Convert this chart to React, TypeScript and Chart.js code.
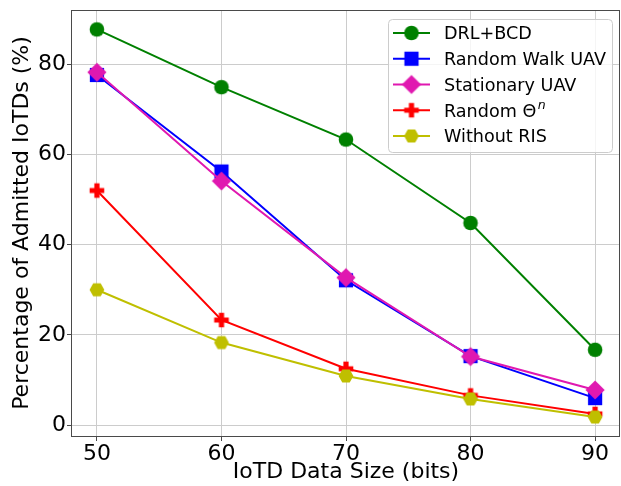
import React, { useEffect, useRef } from 'react';
import { Chart, registerables } from 'chart.js';

Chart.register(...registerables);

const dataSizes = [50, 60, 70, 80, 90];
const drlBcd = [87.7, 74.9, 63.3, 44.8, 16.7];
const randomWalkUav = [77.6, 56.2, 32.1, 15.3, 6.0];
const stationaryUav = [78.2, 54.1, 32.7, 15.2, 7.8];
const randomTheta = [52.0, 23.3, 12.5, 6.6, 2.5];
const withoutRis = [30.0, 18.3, 10.9, 5.8, 1.8];

const seriesLabels = ['DRL+BCD', 'Random Walk UAV', 'Stationary UAV', 'Random Θ', 'Without RIS'];
const seriesValues = [drlBcd, randomWalkUav, stationaryUav, randomTheta, withoutRis];
const seriesColors = ['#008000', '#0000ff', '#e018b0', '#ff0000', '#bfbf00'];
const seriesShapes = ['circle', 'square', 'diamond', 'plus', 'hexagon'];

const xTicks = [50, 60, 70, 80, 90];
const yTicks = [0, 20, 40, 60, 80];

const FONT = "'DejaVu Sans', sans-serif";

function markerCanvas(shape: string, color: string): HTMLCanvasElement {
  const S = 24;
  const c = document.createElement('canvas');
  c.width = S;
  c.height = S;
  const ctx = c.getContext('2d')!;
  const m = S / 2;
  ctx.fillStyle = color;
  ctx.beginPath();
  if (shape === 'circle') {
    ctx.arc(m, m, 7.3, 0, Math.PI * 2);
  } else if (shape === 'square') {
    ctx.rect(m - 7.1, m - 7.1, 14.2, 14.2);
  } else if (shape === 'diamond') {
    const r = 9.6;
    ctx.moveTo(m, m - r);
    ctx.lineTo(m + r, m);
    ctx.lineTo(m, m + r);
    ctx.lineTo(m - r, m);
    ctx.closePath();
  } else if (shape === 'plus') {
    const a = 7.3, b = 2.6;
    const pts = [[-b, -a], [b, -a], [b, -b], [a, -b], [a, b], [b, b], [b, a], [-b, a], [-b, b], [-a, b], [-a, -b], [-b, -b]];
    pts.forEach((p, i) => (i === 0 ? ctx.moveTo(m + p[0], m + p[1]) : ctx.lineTo(m + p[0], m + p[1])));
    ctx.closePath();
  } else if (shape === 'hexagon') {
    const r = 7.4;
    for (let k = 0; k < 6; k++) {
      const ang = (k * Math.PI) / 3;
      const px = m + r * Math.cos(ang);
      const py = m + r * Math.sin(ang);
      if (k === 0) ctx.moveTo(px, py);
      else ctx.lineTo(px, py);
    }
    ctx.closePath();
  }
  ctx.fill();
  return c;
}

function noPad(scale: any) {
  scale.paddingTop = 0;
  scale.paddingBottom = 0;
  scale.paddingLeft = 0;
  scale.paddingRight = 0;
}

export default function App() {
  const canvasRef = useRef<HTMLCanvasElement | null>(null);

  useEffect(() => {
    const canvas = canvasRef.current;
    if (!canvas) return;
    const markers = seriesShapes.map((s, i) => markerCanvas(s, seriesColors[i]));

    const framePlugin = {
      id: 'frame',
      afterDatasetsDraw(chart: any) {
        const { ctx, chartArea } = chart;
        ctx.save();
        ctx.strokeStyle = '#4a4a4a';
        ctx.lineWidth = 1;
        ctx.strokeRect(
          Math.round(chartArea.left) - 0.5,
          Math.round(chartArea.top) + 0.5,
          Math.round(chartArea.right - chartArea.left),
          Math.round(chartArea.bottom - chartArea.top)
        );
        ctx.restore();
      },
    };

    const legendPlugin = {
      id: 'customLegend',
      afterDraw(chart: any) {
        const ctx = chart.ctx as CanvasRenderingContext2D;
        ctx.save();
        const bx = 388.5, by = 19.5, bw = 224, bh = 133, r = 4;
        ctx.beginPath();
        ctx.moveTo(bx + r, by);
        ctx.lineTo(bx + bw - r, by);
        ctx.arcTo(bx + bw, by, bx + bw, by + r, r);
        ctx.lineTo(bx + bw, by + bh - r);
        ctx.arcTo(bx + bw, by + bh, bx + bw - r, by + bh, r);
        ctx.lineTo(bx + r, by + bh);
        ctx.arcTo(bx, by + bh, bx, by + bh - r, r);
        ctx.lineTo(bx, by + r);
        ctx.arcTo(bx, by, bx + r, by, r);
        ctx.closePath();
        ctx.fillStyle = 'rgba(255,255,255,0.8)';
        ctx.fill();
        ctx.strokeStyle = '#cccccc';
        ctx.lineWidth = 1;
        ctx.stroke();

        seriesLabels.forEach((label, i) => {
          const y = 33 + i * 25.75;
          ctx.strokeStyle = seriesColors[i];
          ctx.lineWidth = 2;
          ctx.beginPath();
          ctx.moveTo(393, y);
          ctx.lineTo(430, y);
          ctx.stroke();
          ctx.drawImage(markers[i], 411.5 - 12, y - 12);
          ctx.fillStyle = '#000';
          ctx.font = `17.6px ${FONT}`;
          ctx.textAlign = 'left';
          ctx.textBaseline = 'alphabetic';
          ctx.fillText(label, 444, y + 6.4);
          if (i === 3) {
            const w = ctx.measureText(label).width;
            ctx.font = `italic 12.5px ${FONT}`;
            ctx.fillText('n', 444 + w + 1.5, y - 1.5);
          }
        });
        ctx.restore();
      },
    };

    const chart = new Chart(canvas, {
      type: 'line',
      data: {
        datasets: seriesLabels.map((label, i) => ({
          label,
          data: dataSizes.map((x, j) => ({ x, y: seriesValues[i][j] })),
          borderColor: seriesColors[i],
          backgroundColor: seriesColors[i],
          borderWidth: 2,
          pointStyle: markers[i] as any,
          pointRadius: 8,
          pointHoverRadius: 8,
          fill: false,
          tension: 0,
          order: 4 - i,
        })),
      },
      options: {
        animation: false,
        responsive: false,
        devicePixelRatio: 1,
        events: [],
        layout: { autoPadding: false, padding: { top: 10, right: 1, left: 0, bottom: 0 } },
        plugins: {
          legend: { display: false },
          tooltip: { enabled: false },
        },
        scales: {
          x: {
            type: 'linear',
            min: 48,
            max: 92,
            afterBuildTicks: (scale: any) => {
              scale.ticks = xTicks.map((v) => ({ value: v }));
            },
            afterFit: (scale: any) => {
              scale.height = 50;
              noPad(scale);
            },
            grid: {
              color: '#cccccc',
              lineWidth: 1,
              drawTicks: true,
              tickLength: 5,
              tickColor: '#4a4a4a',
            },
            border: { display: false },
            ticks: {
              color: '#000',
              font: { family: FONT, size: 22 },
              padding: 0,
              maxRotation: 0,
              autoSkip: false,
            },
            title: {
              display: true,
              text: 'IoTD Data Size (bits)',
              color: '#000',
              font: { family: FONT, size: 22 },
              padding: { top: 1, bottom: 1 },
            },
          },
          y: {
            type: 'linear',
            min: -2.4,
            max: 92,
            afterBuildTicks: (scale: any) => {
              scale.ticks = yTicks.map((v) => ({ value: v }));
            },
            afterFit: (scale: any) => {
              scale.width = 72;
              noPad(scale);
            },
            grid: {
              color: '#cccccc',
              lineWidth: 1,
              drawTicks: true,
              tickLength: 5,
              tickColor: '#4a4a4a',
            },
            border: { display: false },
            ticks: {
              color: '#000',
              font: { family: FONT, size: 22 },
              padding: 1,
              autoSkip: false,
            },
            title: {
              display: true,
              text: 'Percentage of Admitted IoTDs (%)',
              color: '#000',
              font: { family: FONT, size: 22 },
              padding: { top: 9, bottom: 9 },
            },
          },
        },
      },
      plugins: [framePlugin, legendPlugin],
    });

    return () => {
      chart.destroy();
    };
  }, []);

  return (
    <div style={{ position: 'absolute', left: 0, top: 0, width: 621, height: 486, background: '#fff' }}>
      <canvas ref={canvasRef} width={621} height={486} style={{ display: 'block', width: 621, height: 486 }} />
    </div>
  );
}
